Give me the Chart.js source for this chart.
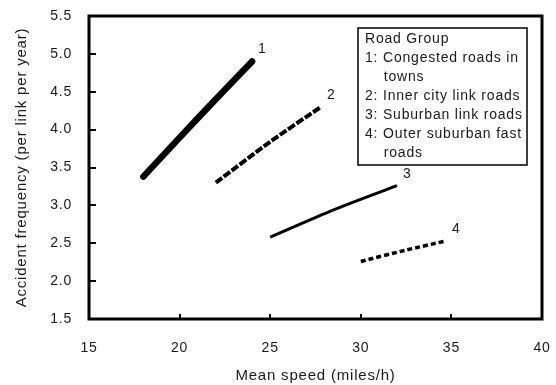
<!DOCTYPE html>
<html>
<head>
<meta charset="utf-8">
<script src="https://cdn.jsdelivr.net/npm/chart.js@4.4.1/dist/chart.umd.min.js"></script>
<style>
  html, body { margin: 0; padding: 0; background: #fff; }
  #wrap { width: 556px; height: 385px; position: relative; }
</style>
</head>
<body>
<div id="wrap"><canvas id="c" width="556" height="385"></canvas></div>
<script>
// ---- data ----
const roadGroups = ['1', '2', '3', '4'];
const group1Speed = [18, 21, 24];
const group1Freq  = [3.38, 4.15, 4.9];
const group2Speed = [22, 25, 27.8];
const group2Freq  = [3.3, 3.84, 4.3];
const group3Speed = [25, 28.5, 32];
const group3Freq  = [2.58, 2.94, 3.26];
const group4Speed = [30, 32.5, 34.7];
const group4Freq  = [2.26, 2.41, 2.53];
const legendTitle = 'Road Group';
const legendLines = [
  '1: Congested roads in', '    towns',
  '2: Inner city link roads',
  '3: Suburban link roads',
  '4: Outer suburban fast', '    roads'
];
const xTitle = 'Mean speed (miles/h)';
const yTitle = 'Accident frequency (per link per year)';

function pts(xs, ys) { return xs.map((x, i) => ({ x: x, y: ys[i] })); }

const FONT = '"Liberation Sans", Arial, sans-serif';
const TXT = '#1a1a1a';
const SPACING = '0.8px';

const spacingPlugin = {
  id: 'spacing',
  beforeInit(chart) { chart.ctx.letterSpacing = SPACING; },
  beforeLayout(chart) { chart.ctx.letterSpacing = SPACING; },
  beforeDraw(chart) { chart.ctx.letterSpacing = SPACING; }
};

const frameAndDecor = {
  id: 'frameAndDecor',
  afterDraw(chart) {
    const ctx = chart.ctx;
    const a = chart.chartArea;
    const xs = chart.scales.x, ys = chart.scales.y;
    ctx.save();
    ctx.letterSpacing = SPACING;
    // inward tick marks
    ctx.strokeStyle = '#000';
    ctx.lineWidth = 2;
    ys.ticks.forEach(t => {
      const py = Math.round(ys.getPixelForValue(t.value));
      ctx.beginPath(); ctx.moveTo(a.left, py); ctx.lineTo(a.left + 7, py); ctx.stroke();
    });
    xs.ticks.forEach(t => {
      const px = Math.round(xs.getPixelForValue(t.value));
      ctx.beginPath(); ctx.moveTo(px, a.bottom); ctx.lineTo(px, a.bottom - 5); ctx.stroke();
    });
    // frame
    ctx.lineWidth = 3;
    ctx.strokeRect(a.left, a.top, a.right - a.left, a.bottom - a.top);
    // group labels at line ends
    ctx.fillStyle = TXT;
    ctx.font = '14px ' + FONT;
    ctx.textBaseline = 'middle';
    ctx.textAlign = 'left';
    chart.data.datasets.forEach((ds, i) => {
      const last = ds.data[ds.data.length - 1];
      const px = xs.getPixelForValue(last.x);
      const py = ys.getPixelForValue(last.y);
      ctx.fillText(roadGroups[i], px + 6, py - 12);
    });
    // legend box
    const bx = 358, by = 28, bw = 169, bh = 137;
    ctx.lineWidth = 1.5;
    ctx.fillStyle = '#fff';
    ctx.fillRect(bx, by, bw, bh);
    ctx.strokeRect(bx, by, bw, bh);
    ctx.fillStyle = TXT;
    ctx.fillText(legendTitle, bx + 7, by + 11);
    legendLines.forEach((line, i) => {
      ctx.fillText(line, bx + 7, by + 30 + i * 19);
    });
    ctx.restore();
  }
};

new Chart(document.getElementById('c'), {
  type: 'scatter',
  data: {
    datasets: [
      { data: pts(group1Speed, group1Freq), borderColor: '#000', borderWidth: 6.5, borderCapStyle: 'round' },
      { data: pts(group2Speed, group2Freq), borderColor: '#000', borderWidth: 4, borderDash: [8, 2] },
      { data: pts(group3Speed, group3Freq), borderColor: '#000', borderWidth: 3 },
      { data: pts(group4Speed, group4Freq), borderColor: '#000', borderWidth: 3.5, borderDash: [5, 3] }
    ].map(d => Object.assign(d, { showLine: true, pointRadius: 0, tension: 0.25, fill: false }))
  },
  options: {
    responsive: false,
    animation: false,
    devicePixelRatio: 1,
    layout: { padding: { top: 16, right: 14, left: 0, bottom: 0 } },
    plugins: { legend: { display: false }, tooltip: { enabled: false } },
    scales: {
      x: {
        type: 'linear', min: 15, max: 40,
        afterFit(s) { s.height = 66; s.paddingLeft = 0; s.paddingRight = 0; },
        grid: { display: false },
        border: { display: false },
        ticks: { stepSize: 5, padding: 13, color: TXT, font: { family: FONT, size: 14 } },
        title: { display: true, text: xTitle, color: TXT, font: { family: FONT, size: 15 }, padding: { top: 4, bottom: 0 } }
      },
      y: {
        type: 'linear', min: 1.5, max: 5.5,
        afterFit(s) { s.width = 89; s.paddingTop = 0; s.paddingBottom = 0; },
        grid: { display: false },
        border: { display: false },
        ticks: { stepSize: 0.5, padding: 9, color: TXT, font: { family: FONT, size: 14 },
                 callback: v => Number(v).toFixed(1) },
        title: { display: true, text: yTitle, color: TXT, font: { family: FONT, size: 15 }, padding: { top: 13, bottom: 0 } }
      }
    }
  },
  plugins: [spacingPlugin, frameAndDecor]
});
</script>
</body>
</html>
